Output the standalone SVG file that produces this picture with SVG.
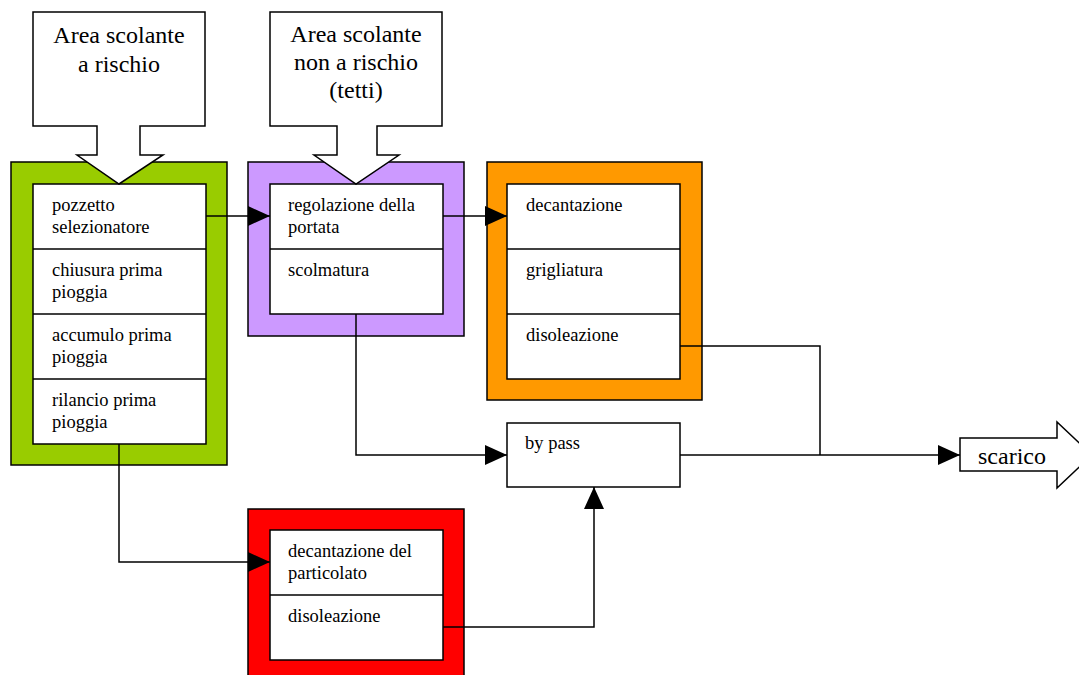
<svg xmlns="http://www.w3.org/2000/svg" width="1079" height="675" viewBox="0 0 1079 675">
<style>
.frame{stroke:#000;stroke-width:1.5}
.box{fill:#fff;stroke:#000;stroke-width:1.5}
.line{fill:none;stroke:#000;stroke-width:1.5}
.t{font-family:"Liberation Serif","Times New Roman",serif;font-size:18.5px;fill:#000}
.big{font-family:"Liberation Serif","Times New Roman",serif;font-size:24px;fill:#000;text-anchor:middle}
</style>
<defs>
<marker id="ah" markerWidth="22" markerHeight="20" refX="22" refY="10" orient="auto" markerUnits="userSpaceOnUse">
<path d="M0,0 L22,10 L0,20 Z" fill="#000"/>
</marker>
</defs>
<rect width="1079" height="675" fill="#fff"/>

<g id="green">
<rect class="frame" x="11" y="162" width="216" height="303" fill="#99CC00"/>
<rect class="box" x="33" y="184" width="173" height="260"/>
<line class="line" x1="33" y1="249" x2="206" y2="249"/>
<line class="line" x1="33" y1="314" x2="206" y2="314"/>
<line class="line" x1="33" y1="379" x2="206" y2="379"/>
<text class="t" x="52" y="211">pozzetto</text>
<text class="t" x="52" y="233">selezionatore</text>
<text class="t" x="52" y="276">chiusura prima</text>
<text class="t" x="52" y="298">pioggia</text>
<text class="t" x="52" y="341">accumulo prima</text>
<text class="t" x="52" y="363">pioggia</text>
<text class="t" x="52" y="406">rilancio prima</text>
<text class="t" x="52" y="428">pioggia</text>
</g>

<g id="purple">
<rect class="frame" x="248" y="162" width="216" height="174" fill="#CC99FF"/>
<rect class="box" x="270" y="184" width="173" height="130"/>
<line class="line" x1="270" y1="249" x2="443" y2="249"/>
<text class="t" x="288" y="211">regolazione della</text>
<text class="t" x="288" y="233">portata</text>
<text class="t" x="288" y="276">scolmatura</text>
</g>

<g id="orange">
<rect class="frame" x="487" y="162" width="215" height="238" fill="#FF9900"/>
<rect class="box" x="507" y="184" width="173" height="195"/>
<line class="line" x1="507" y1="249" x2="680" y2="249"/>
<line class="line" x1="507" y1="314" x2="680" y2="314"/>
<text class="t" x="526" y="211">decantazione</text>
<text class="t" x="526" y="276">grigliatura</text>
<text class="t" x="526" y="341">disoleazione</text>
</g>

<g id="red">
<rect class="frame" x="248" y="509" width="216" height="175" fill="#FF0000"/>
<rect class="box" x="270" y="530" width="173" height="130"/>
<line class="line" x1="270" y1="595" x2="443" y2="595"/>
<text class="t" x="288" y="557">decantazione del</text>
<text class="t" x="288" y="579">particolato</text>
<text class="t" x="288" y="622">disoleazione</text>
</g>

<g id="bypass">
<rect class="box" x="507" y="423" width="173" height="64"/>
<text class="t" x="525" y="449">by pass</text>
</g>

<g id="area1">
<path class="box" d="M33,12 H205 V126 H140 V155 H163 L119,184 L77,155 H97 V126 H33 Z"/>
<text class="big" x="119" y="43">Area scolante</text>
<text class="big" x="119" y="72">a rischio</text>
</g>

<g id="area2">
<path class="box" d="M270,12 H442 V126 H377 V155 H399 L356,184 L314,155 H337 V126 H270 Z"/>
<text class="big" x="356" y="42">Area scolante</text>
<text class="big" x="356" y="70">non a rischio</text>
<text class="big" x="356" y="98">(tetti)</text>
</g>

<g id="scarico">
<path class="box" d="M960,438 H1057 V422 L1092,455 L1057,488 V471 H960 Z"/>
<text class="big" x="1012" y="464">scarico</text>
</g>

<g id="connectors">
<path class="line" d="M206,216 H270" marker-end="url(#ah)"/>
<path class="line" d="M443,216 H507" marker-end="url(#ah)"/>
<path class="line" d="M356,314 V455 H507" marker-end="url(#ah)"/>
<path class="line" d="M119,444 V562 H270" marker-end="url(#ah)"/>
<path class="line" d="M443,627 H594 V487" marker-end="url(#ah)"/>
<path class="line" d="M680,346 H820 V455"/>
<path class="line" d="M680,455 H960" marker-end="url(#ah)"/>
</g>
</svg>
